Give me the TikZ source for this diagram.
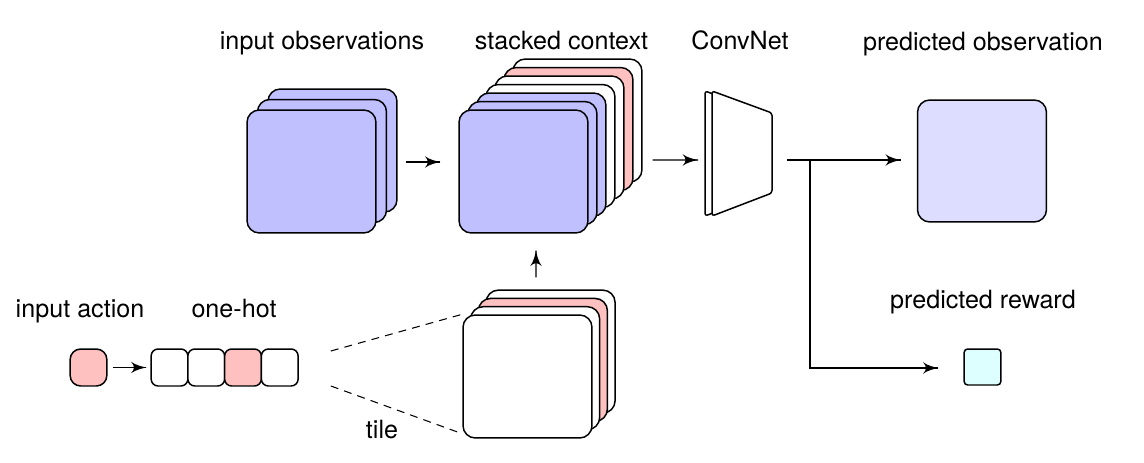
\documentclass[tikz,border=0pt]{standalone}
\usepackage{fontspec}
\setmainfont{TeX Gyre Heros}
\usetikzlibrary{arrows}
\usetikzlibrary{decorations.markings}
\tikzset{->/.style = {decoration={markings,
                                  mark=at position 1 with {\arrow[scale=1.9]{latex'}}},
                      postaction={decorate}}}
\tikzset{frame/.style = {draw, line width=0.85pt, rounded corners=7pt, inner sep=0pt,
                         minimum width=2.58cm, minimum height=2.46cm},
         cell/.style = {draw, line width=0.85pt, rounded corners=4pt, inner sep=0pt,
                        minimum width=0.735cm, minimum height=0.74cm},
         caption/.style = {font=\fontsize{14.3}{17}\selectfont, anchor=base},
         dashline/.style = {semithick, dash pattern=on 4.5pt off 3.5pt}}
\definecolor{mviolet}{RGB}{192,192,255}
\definecolor{mpink}{RGB}{255,192,192}
\definecolor{mlilac}{RGB}{221,221,255}
\definecolor{mcyan}{RGB}{221,255,255}

\begin{document}
\begin{tikzpicture}[x=0.02cm, y=-0.02cm]
      \useasboundingbox (0, 0) rectangle (1144, 463);

      % stacks of frames
      \foreach \k/\c in {2/mviolet, 1/mviolet, 0/mviolet}
        \node [frame, fill=\c] (obs\k) at (311.5+10.5*\k, 171.5-10.5*\k) {};
      \foreach \k/\c in {6/white, 5/mpink, 4/white, 3/white, 2/mviolet, 1/mviolet, 0/mviolet}
        \node [frame, fill=\c] (ctx\k) at (523.5+9*\k, 171.5-8.5*\k) {};
      \foreach \k/\c in {3/white, 2/mpink, 1/white, 0/white}
        \node [frame, fill=\c] (tile\k) at (527.5+7.7*\k, 376.5-8.3*\k) {};

      \node [frame, fill=mlilac, minimum height=2.44cm] (pobs) at (982, 161) {};
      \node [cell, fill=mcyan, rounded corners=2pt, minimum height=0.72cm] (rew) at (982.5, 367) {};

      \node [cell, fill=mpink, rounded corners=6pt] (act) at (88.5, 367.5) {};
      \foreach \i/\c in {0/white, 1/white, 2/mpink, 3/white}
        \node [cell, fill=\c] (hot\i) at (169.5+36.75*\i, 367.5) {};

      % convnet
      \draw [line width=0.85pt, fill=white, rounded corners=1.5pt]
        (705, 91) -- (765, 113) -- (765, 193) -- (705, 216) -- cycle;
      \draw [line width=0.85pt, fill=white, rounded corners=1.5pt]
        (712, 91) -- (772, 113) -- (772, 193) -- (712, 216) -- cycle;
      \coordinate (net in) at (698, 160);
      \coordinate (net out) at (787, 160);
      \coordinate (split) at (810, 160);

      \draw [->, semithick] ([xshift=0.58cm, yshift=0.19cm]obs0.east) -- ([xshift=-0.36cm, yshift=0.19cm]ctx0.west);
      \draw [->, semithick] ([xshift=1.28cm, yshift=0.23cm]ctx0.east) -- (net in);
      \draw [->, semithick] (net out) -- ([xshift=-0.32cm, yshift=0.02cm]pobs.west);
      \draw [->, semithick] (split) |- ([xshift=-0.5cm, yshift=-0.02cm]rew.west);
      \draw [->, semithick] ([xshift=0.17cm, yshift=0.74cm]tile0.north) -- ([xshift=0.25cm, yshift=-0.34cm]ctx0.south);
      \draw [->, semithick] ([xshift=0.1cm]act.east) -- ([xshift=-0.08cm]hot0.west);

      \draw [dashline] ([xshift=0.64cm, yshift=0.33cm]hot3.east) -- (tile0.north west);
      \draw [dashline] ([xshift=0.64cm, yshift=-0.37cm]hot3.east) -- ([yshift=0.1cm]tile0.south west);

      \node [caption] (obs label) at (322, 50) {input observations};
      \node [caption] (ctx label) at (561.5, 50) {stacked context};
      \node [caption] (net label) at (740, 50) {ConvNet};
      \node [caption] (pobs label) at (983, 51) {predicted observation};
      \node [caption] (rew label) at (983, 308) {predicted reward};
      \node [caption] (act label) at (80, 317) {input action};
      \node [caption] (hot label) at (234, 317) {one-hot};
      \node [caption] (tile label) at (382, 438) {tile};
    \end{tikzpicture}
\end{document}
